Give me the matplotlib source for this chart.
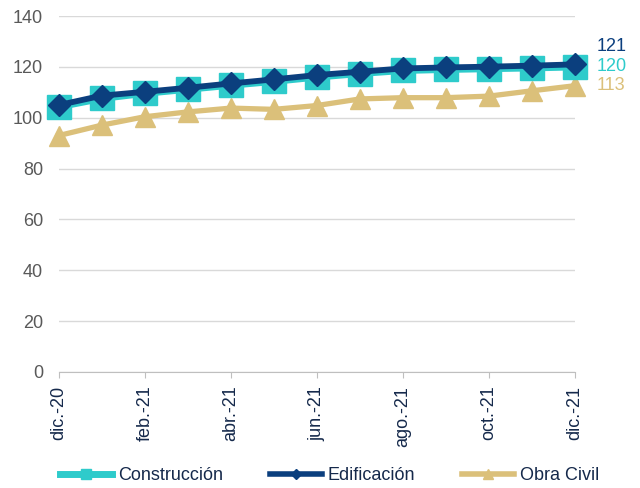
import matplotlib
matplotlib.use("Agg")
import matplotlib.pyplot as plt
from matplotlib.lines import Line2D

plt.rcParams["font.family"] = ["Liberation Sans", "DejaVu Sans"]

# ── Data ──────────────────────────────────────────────────────────
meses = ["dic.-20", "ene.-21", "feb.-21", "mar.-21", "abr.-21", "may.-21",
         "jun.-21", "jul.-21", "ago.-21", "sep.-21", "oct.-21", "nov.-21",
         "dic.-21"]
construccion = [104.3, 107.6, 109.6, 111.2, 112.8, 114.3, 116.0, 117.4,
                118.6, 119.0, 119.3, 119.6, 120.0]
edificacion = [105.0, 108.7, 110.2, 111.8, 113.5, 115.1, 116.8, 118.1,
               119.4, 119.8, 120.1, 120.5, 121.0]
obra_civil = [93.0, 97.1, 100.4, 102.3, 103.8, 103.3, 104.8, 107.4,
              107.9, 107.9, 108.5, 110.6, 112.6]

C_CONS = "#2ECBCB"
C_EDIF = "#0B3F7E"
C_OBRA = "#DBC07A"
GRAY = "#595959"
NAVY_TXT = "#15294B"

fig = plt.figure(figsize=(6.4, 4.88), dpi=100)
ax = fig.add_axes([0.092, 0.238, 0.806, 0.729])

x = list(range(len(meses)))
ax.plot(x, construccion, color=C_CONS, lw=5, marker="s", markersize=17.5,
        zorder=3, clip_on=False)
ax.plot(x, edificacion, color=C_EDIF, lw=4.2, marker="D", markersize=11,
        zorder=4, clip_on=False)
ax.plot(x, obra_civil, color=C_OBRA, lw=3.8, marker="^", markersize=15,
        zorder=2, clip_on=False)

# ── Axes styling ──────────────────────────────────────────────────
ax.set_xlim(0, 12)
ax.set_ylim(0, 140)
ax.set_yticks(range(0, 141, 20))
ax.set_xticks(x[::2])
ax.set_xticklabels(meses[::2], rotation=90, fontsize=13, color=NAVY_TXT)
ax.tick_params(axis="y", length=0, labelsize=13, labelcolor=GRAY, pad=11.5)
ax.tick_params(axis="x", length=4, color="#BFBFBF", pad=6)
ax.grid(axis="y", color="#D9D9D9", lw=1)
ax.set_axisbelow(True)
for side in ["top", "right", "left"]:
    ax.spines[side].set_visible(False)
ax.spines["bottom"].set_color("#BFBFBF")

# ── End-value labels ──────────────────────────────────────────────
ax.annotate(f"{edificacion[-1]:.0f}", (12, edificacion[-1]), xytext=(16, 13),
            textcoords="offset points", color=C_EDIF, fontsize=13,
            va="center", annotation_clip=False)
ax.annotate(f"{construccion[-1]:.0f}", (12, construccion[-1]), xytext=(16, 0),
            textcoords="offset points", color=C_CONS, fontsize=13,
            va="center", annotation_clip=False)
ax.annotate(f"{obra_civil[-1]:.0f}", (12, obra_civil[-1]), xytext=(16, 0),
            textcoords="offset points", color=C_OBRA, fontsize=13,
            va="center", annotation_clip=False)

# ── Legend ────────────────────────────────────────────────────────
handles = [
    Line2D([], [], color=C_CONS, lw=5, marker="s", markersize=7),
    Line2D([], [], color=C_EDIF, lw=4, marker="D", markersize=5),
    Line2D([], [], color=C_OBRA, lw=4, marker="^", markersize=7),
]
fig.legend(handles, ["Construcción", "Edificación", "Obra Civil"],
           loc="center", bbox_to_anchor=(0.515, 0.025), ncol=3,
           frameon=False, fontsize=13, handlelength=2.9, handletextpad=0.3,
           columnspacing=2.6, labelcolor=NAVY_TXT)

fig.savefig("out.png", dpi=100)
